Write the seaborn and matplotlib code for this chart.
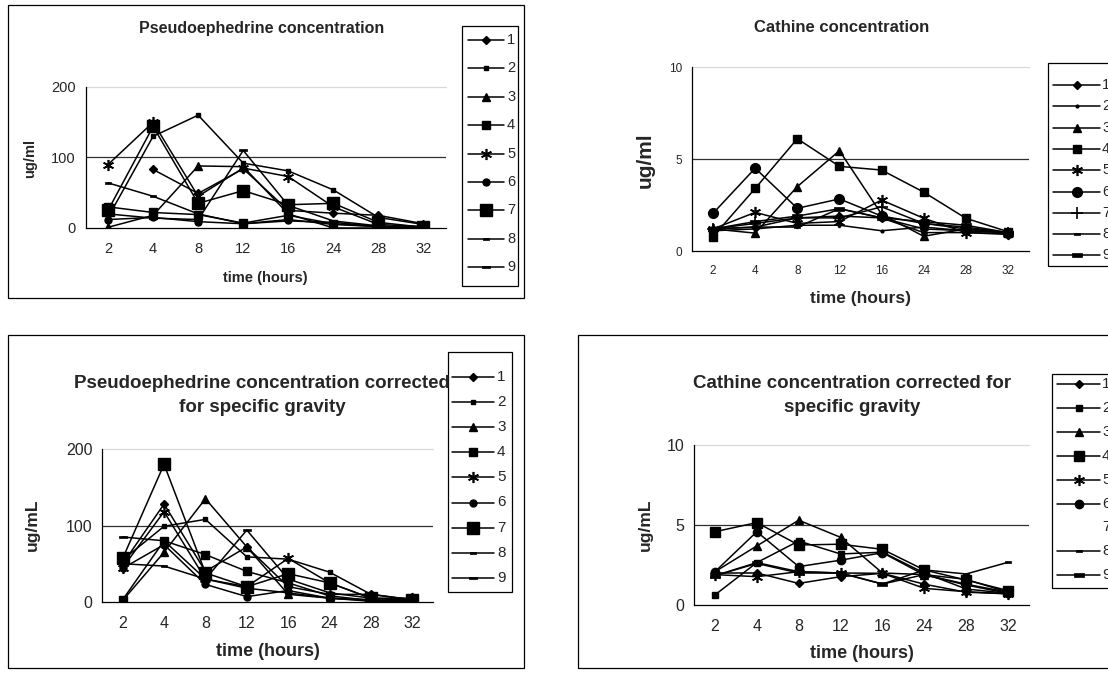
import numpy as np
import pandas as pd
import matplotlib
matplotlib.use("Agg")
import matplotlib.pyplot as plt
from matplotlib.lines import Line2D
from matplotlib.patches import Rectangle
import seaborn as sns

sns.set_theme(style="white")
plt.rcParams['font.family'] = ['Liberation Sans', 'DejaVu Sans']

nan = np.nan
times = ["2", "4", "8", "12", "16", "24", "28", "32"]
subjects = ["1", "2", "3", "4", "5", "6", "7", "8", "9"]

# Pseudoephedrine concentration (ug/ml)
pseudo = {
    "1": [nan, 83, 49, 84, 25, 21, 18, 6],
    "2": [15, 130, 160, 92, 81, 54, 15, 5],
    "3": [1, 18, 88, 87, 20, 0, 0, 0],
    "4": [30, 22, 19, 7, 18, 6, 2, 0],
    "5": [90, 150, 45, 85, 73, 30, 5, 2],
    "6": [12, 15, 9, 6, 12, 5, 2, 1],
    "7": [25, 144, 35, 53, 33, 35, 8, 1],
    "8": [64, 45, 20, 6, 10, 8, 2, 1],
    "9": [20, 14, 12, 110, 32, 10, 3, 1],
}
# Cathine concentration (ug/ml)
cathine = {
    "1": [1.2, 1.3, 1.8, 1.9, 1.8, 1.2, 1.1, 1.0],
    "2": [1.1, 1.2, 1.4, 1.4, 1.1, 1.3, 1.1, 1.0],
    "3": [1.2, 0.97, 3.5, 5.45, 2.0, 0.8, 1.2, 1.0],
    "4": [0.78, 3.4, 6.1, 4.6, 4.4, 3.2, 1.78, 1.05],
    "5": [1.2, 2.1, 1.5, 1.6, 2.77, 1.78, 1.0, 0.95],
    "6": [2.05, 4.5, 2.32, 2.83, 1.9, 1.5, 1.2, 1.0],
    "7": [1.2, 1.5, 1.8, 1.8, 2.4, 1.5, 1.3, 1.0],
    "8": [1.2, 1.3, 1.3, 2.3, 1.8, 1.0, 1.0, 0.9],
    "9": [1.2, 1.6, 1.9, 2.3, 1.8, 1.6, 1.4, 1.0],
}
# Pseudoephedrine corrected for specific gravity (ug/mL)
pseudo_sg = {
    "1": [50, 128, 40, 72, 20, 10, 10, 3],
    "2": [55, 99, 108, 59, 56, 39, 10, 3],
    "3": [2, 65, 135, 72, 10, 5, 3, 1],
    "4": [3, 80, 62, 40, 25, 8, 2, 1],
    "5": [45, 118, 30, 20, 57, 25, 5, 5],
    "6": [44, 75, 23, 7, 15, 5, 1, 1],
    "7": [57, 180, 38, 20, 37, 25, 5, 2],
    "8": [50, 47, 30, 18, 12, 5, 2, 1],
    "9": [85, 80, 30, 94, 30, 12, 5, 2],
}
# Cathine corrected for specific gravity (ug/mL)
cathine_sg = {
    "1": [2.0, 2.0, 1.35, 1.77, 1.98, 1.3, 0.8, 0.7],
    "2": [0.63, 2.65, 4.0, 3.19, 3.3, 2.0, 1.0, 0.73],
    "3": [2.08, 3.69, 5.3, 4.23, 2.0, 1.9, 1.3, 0.8],
    "4": [4.58, 5.15, 3.75, 3.8, 3.48, 2.19, 1.56, 0.9],
    "5": [1.9, 1.77, 2.08, 2.0, 1.98, 1.04, 0.83, 0.7],
    "6": [2.08, 4.58, 2.4, 2.8, 3.27, 1.88, 1.25, 0.73],
    "7": [nan, nan, nan, nan, nan, nan, nan, nan],
    "8": [1.83, 2.65, 2.08, 2.0, 1.31, 2.19, 1.94, 2.67],
    "9": [1.83, 2.6, 2.0, 2.0, 1.31, 1.9, 1.6, 0.8],
}

W, H = 1108, 680
fig = plt.figure(figsize=(W / 100, H / 100), dpi=100)
fig.patch.set_facecolor("white")

def FX(x):
    return x / W

def FY(y):
    return 1 - y / H

ASTER = (6, 2, 0)
DASH_S = [(-1, -0.45), (1, -0.45), (1, 0.45), (-1, 0.45), (-1, -0.45)]
DASH_L = [(-1, -0.35), (1, -0.35), (1, 0.35), (-1, 0.35), (-1, -0.35)]

# marker styles (marker, size, edge width)
sty_pseudo = {
    "1": ("D", 4, 1), "2": ("s", 3.5, 1), "3": ("^", 6, 1), "4": ("s", 5.5, 1),
    "5": (ASTER, 8, 1.2), "6": ("o", 5, 1), "7": ("s", 8, 1), "8": (DASH_S, 4, 0.5),
    "9": (DASH_L, 6, 0.5),
}
sty_cath = {
    "1": ("D", 4, 1), "2": ("o", 2, 1), "3": ("^", 5.5, 1), "4": ("s", 6, 1),
    "5": (ASTER, 8, 1.2), "6": ("o", 7, 1), "7": ("+", 9, 1.2), "8": (DASH_S, 4, 0.5),
    "9": (DASH_L, 7, 0.5),
}
sty_cath_sg = dict(sty_cath)
sty_cath_sg["2"] = ("s", 4.5, 1)
sty_cath_sg["4"] = ("s", 7, 1)
sty_cath_sg["6"] = ("o", 6, 1)
sty_cath_sg["7"] = (None, 0, 0)

panels = [
    dict(data=pseudo, sty=sty_pseudo, box=(85.5, 87, 446, 228), ymax=200, yt=[0, 100, 200],
         title=["Pseudoephedrine concentration"], tpos=(262, [28]), tsize=11.5,
         ylab="ug/ml", ylpos=(30, 158), ylsize=10.5, xlpos=(265, 278), xlsize=10.5,
         ticksize=10.5, frame=(8, 5, 524, 298),
         leg=dict(box=(462, 26, 518, 286), y0=40, dy=28.4, l0=468, l1=504, lab=507, fs=10.5)),
    dict(data=cathine, sty=sty_cath, box=(692, 67, 1029, 251), ymax=10, yt=[0, 5, 10],
         title=["Cathine concentration"], tpos=(842, [28]), tsize=12,
         ylab="ug/ml", ylpos=(645, 160), ylsize=15, xlpos=(860, 298), xlsize=12.5,
         ticksize=8.5, frame=None,
         leg=dict(box=(1048, 63, 1120, 266), y0=85, dy=21.3, l0=1053, l1=1100, lab=1102, fs=10.5)),
    dict(data=pseudo_sg, sty=sty_pseudo, box=(102, 449, 433, 602), ymax=200, yt=[0, 100, 200],
         title=["Pseudoephedrine concentration corrected", "for specific gravity"],
         tpos=(262, [383, 408]), tsize=13.5,
         ylab="ug/mL", ylpos=(32, 525), ylsize=12.5, xlpos=(268, 652), xlsize=13,
         ticksize=11.5, frame=(8, 335, 524, 668),
         leg=dict(box=(448, 352, 512, 592), y0=377, dy=25.1, l0=452, l1=494, lab=497, fs=11)),
    dict(data=cathine_sg, sty=sty_cath_sg, box=(694, 445, 1029, 605), ymax=10, yt=[0, 5, 10],
         title=["Cathine concentration corrected for", "specific gravity"],
         tpos=(852, [383, 408]), tsize=13.5,
         ylab="ug/mL", ylpos=(645, 525), ylsize=12.5, xlpos=(862, 653), xlsize=13,
         ticksize=11.5, frame=(578, 335, 1120, 668),
         leg=dict(box=(1052, 374, 1120, 588), y0=384, dy=23.9, l0=1057, l1=1100, lab=1102, fs=11)),
]

xpos = np.arange(len(times))

for p in panels:
    if p["frame"] is not None:
        fl, ft, fr, fb = p["frame"]
        fig.add_artist(Rectangle((FX(fl), FY(fb)), (fr - fl) / W, (fb - ft) / H,
                                 transform=fig.transFigure, fill=False,
                                 edgecolor="black", lw=0.9))
    l, t, r, b = p["box"]
    ax = fig.add_axes([FX(l), FY(b), (r - l) / W, (b - t) / H])
    ax.set_facecolor("none")
    ax.set_xlim(-0.5, len(times) - 0.5)
    ax.set_ylim(0, p["ymax"])
    ax.axhline(p["ymax"] / 2, color="#303030", lw=0.9, zorder=1)
    ax.axhline(p["ymax"], color="#d9d9d9", lw=0.9, zorder=1, clip_on=False)
    for s in subjects:
        vals = np.array(p["data"][s], dtype=float)
        m, ms, mew = p["sty"][s]
        if m is None or np.all(np.isnan(vals)):
            continue
        df = pd.DataFrame({"x": xpos, "y": vals}).dropna()
        sns.lineplot(data=df, x="x", y="y", ax=ax, color="black", lw=1.1,
                     marker=m, markersize=ms, markeredgewidth=mew,
                     markerfacecolor="black", markeredgecolor="black",
                     estimator=None, sort=False, legend=False, zorder=3)
    for sp in ["top", "right"]:
        ax.spines[sp].set_visible(False)
    for sp in ["left", "bottom"]:
        ax.spines[sp].set_color("black")
        ax.spines[sp].set_linewidth(0.9)
    ax.set_xticks(xpos)
    ax.set_xticklabels(times)
    ax.set_xticks(np.arange(-0.5, len(times), 1), minor=True)
    ax.set_yticks(p["yt"])
    ax.set_yticklabels([str(v) for v in p["yt"]])
    ax.tick_params(axis="x", which="major", length=0, pad=10, labelsize=p["ticksize"])
    ax.tick_params(axis="x", which="minor", length=4, width=0.8, color="black", direction="out")
    ax.tick_params(axis="y", which="major", length=4, width=0.8, color="black",
                   direction="out", pad=3, labelsize=p["ticksize"])
    ax.set_xlabel("")
    ax.set_ylabel("")
    ax.grid(False)

    tx, tys = p["tpos"]
    for line, ty in zip(p["title"], tys):
        fig.text(FX(tx), FY(ty), line, ha="center", va="center",
                 fontsize=p["tsize"], fontweight="bold")
    fig.text(FX(p["ylpos"][0]), FY(p["ylpos"][1]), p["ylab"], rotation=90,
             ha="center", va="center", fontsize=p["ylsize"], fontweight="bold")
    fig.text(FX(p["xlpos"][0]), FY(p["xlpos"][1]), "time (hours)", ha="center",
             va="center", fontsize=p["xlsize"], fontweight="bold")

    lg = p["leg"]
    bl, bt, br, bb = lg["box"]
    fig.add_artist(Rectangle((FX(bl), FY(bb)), (br - bl) / W, (bb - bt) / H,
                             transform=fig.transFigure, fill=False,
                             edgecolor="black", lw=0.9))
    for i, s in enumerate(subjects):
        yy = lg["y0"] + i * lg["dy"]
        m, ms, mew = p["sty"][s]
        if m is not None:
            fig.add_artist(Line2D([FX(lg["l0"]), FX(lg["l1"])], [FY(yy), FY(yy)],
                                  transform=fig.transFigure, color="black", lw=1.1))
            fig.add_artist(Line2D([FX((lg["l0"] + lg["l1"]) / 2)], [FY(yy)],
                                  transform=fig.transFigure, color="black", lw=0,
                                  marker=m, markersize=ms, markeredgewidth=mew,
                                  markerfacecolor="black", markeredgecolor="black"))
        fig.text(FX(lg["lab"]), FY(yy), s, ha="left", va="center", fontsize=lg["fs"])

fig.savefig("out.png", dpi=100, facecolor="white")
